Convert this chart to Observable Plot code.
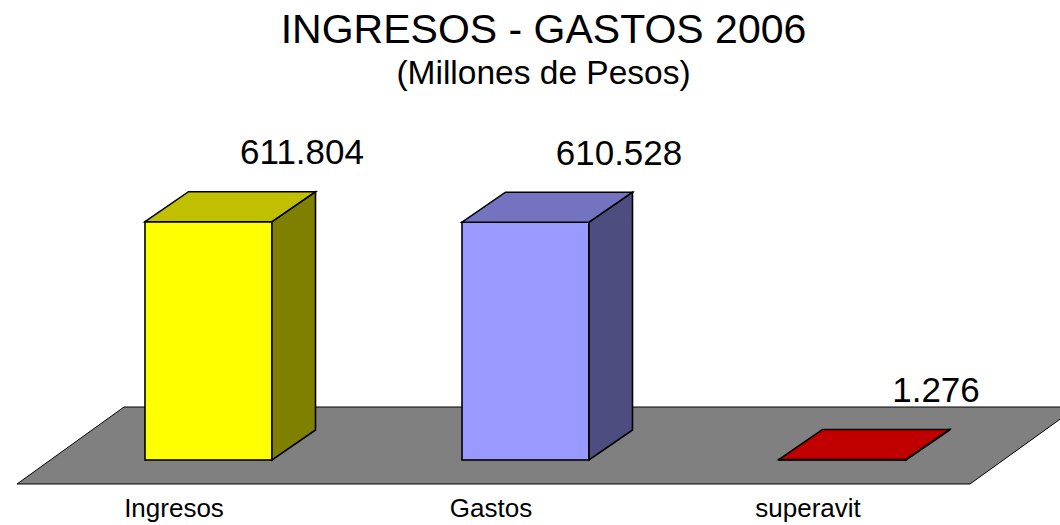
<!DOCTYPE html>
<html><head><meta charset="utf-8">
<script src="https://cdn.jsdelivr.net/npm/d3@7"></script>
<script src="https://cdn.jsdelivr.net/npm/@observablehq/plot@0.6"></script>
<style>body{margin:0;background:#fff;} #chart svg{display:block;}</style>
</head><body><div id="chart"></div>
<script>
// ---- data ----
const categories = ["Ingresos", "Gastos", "superavit"];
const values = [611.804, 610.528, 1.276];
const titleText = ["INGRESOS - GASTOS 2006"];
const subtitleText = ["(Millones de Pesos)"];

// ---- styles ----
const frontColors = ["#FFFF00", "#9999FF", "#FF0000"];
const topColors = ["#C0C000", "#7373BF", "#C00000"];
const sideColors = ["#808000", "#4D4D80", "#800000"];
const floorColor = "#808080";
const DEPTH_X = 43.5, DEPTH_Y = -30;

const data = categories.map((c, i) => ({category: c, value: values[i]}));
const fmt = d3.format(".3f");

function polygon(g, pts, fill, sw) {
  g.append("polygon")
    .attr("points", pts.map(p => p.join(",")).join(" "))
    .attr("fill", fill)
    .attr("stroke", "#000")
    .attr("stroke-width", sw)
    .attr("stroke-linejoin", "miter");
}

// floor (plot "wall") drawn from the x/y scales
function floorMark(index, scales) {
  const g = d3.create("svg:g");
  const [r0, r1] = scales.x.range();
  const y0 = scales.y(0);
  polygon(g, [
    [r0 - 63, y0 + 24],
    [r1, y0 + 24],
    [r1 + 107, y0 - 53],
    [r0 + 44, y0 - 53]
  ], floorColor, 1);
  return g.node();
}

// 3D top and side faces of each bar, positioned with the scales
function depthMark(index, scales) {
  const g = d3.create("svg:g");
  const bw = scales.x.bandwidth();
  data.forEach((d, i) => {
    const x0 = scales.x(d.category), x1 = x0 + bw;
    const yt = scales.y(d.value), yb = scales.y(0);
    polygon(g, [[x1, yt], [x1, yb], [x1 + DEPTH_X, yb + DEPTH_Y], [x1 + DEPTH_X, yt + DEPTH_Y]], sideColors[i], 1.6);
    polygon(g, [[x0, yt], [x1, yt], [x1 + DEPTH_X, yt + DEPTH_Y], [x0 + DEPTH_X, yt + DEPTH_Y]], topColors[i], 1.6);
  });
  return g.node();
}

const chart = Plot.plot({
  width: 1060,
  height: 525,
  marginTop: 0,
  marginRight: 0,
  marginLeft: 0,
  marginBottom: 40,
  style: {fontFamily: "'Liberation Sans', Arial, sans-serif", background: "#fff", color: "#000"},
  x: {domain: categories, range: [80, 970], paddingInner: 0.6, paddingOuter: 0.2, axis: null},
  y: {domain: [0, 650], range: [460, 460 - 650 * (238.3 / 611.804)], axis: null},
  color: {domain: categories, range: frontColors},
  marks: [
    floorMark,
    Plot.barY(data, {x: "category", y: "value", fill: "category", stroke: "#000", strokeWidth: 1.6}),
    depthMark,
    Plot.text(data, {x: "category", y: "value", text: d => fmt(d.value), dx: 93, dy: -58,
      lineAnchor: "bottom", fontSize: 35, fill: "#000"}),
    Plot.axisX({tickSize: 0, tickPadding: 13, fontSize: 26, dx: -35, label: null}),
    Plot.text(titleText, {text: d => d, frameAnchor: "top", lineAnchor: "top", dx: 13, dy: 13, fontSize: 41, fill: "#000"}),
    Plot.text(subtitleText, {text: d => d, frameAnchor: "top", lineAnchor: "top", dx: 13, dy: 60, fontSize: 33.5, fill: "#000"})
  ]
});
document.getElementById("chart").appendChild(chart);
</script>
</body></html>
